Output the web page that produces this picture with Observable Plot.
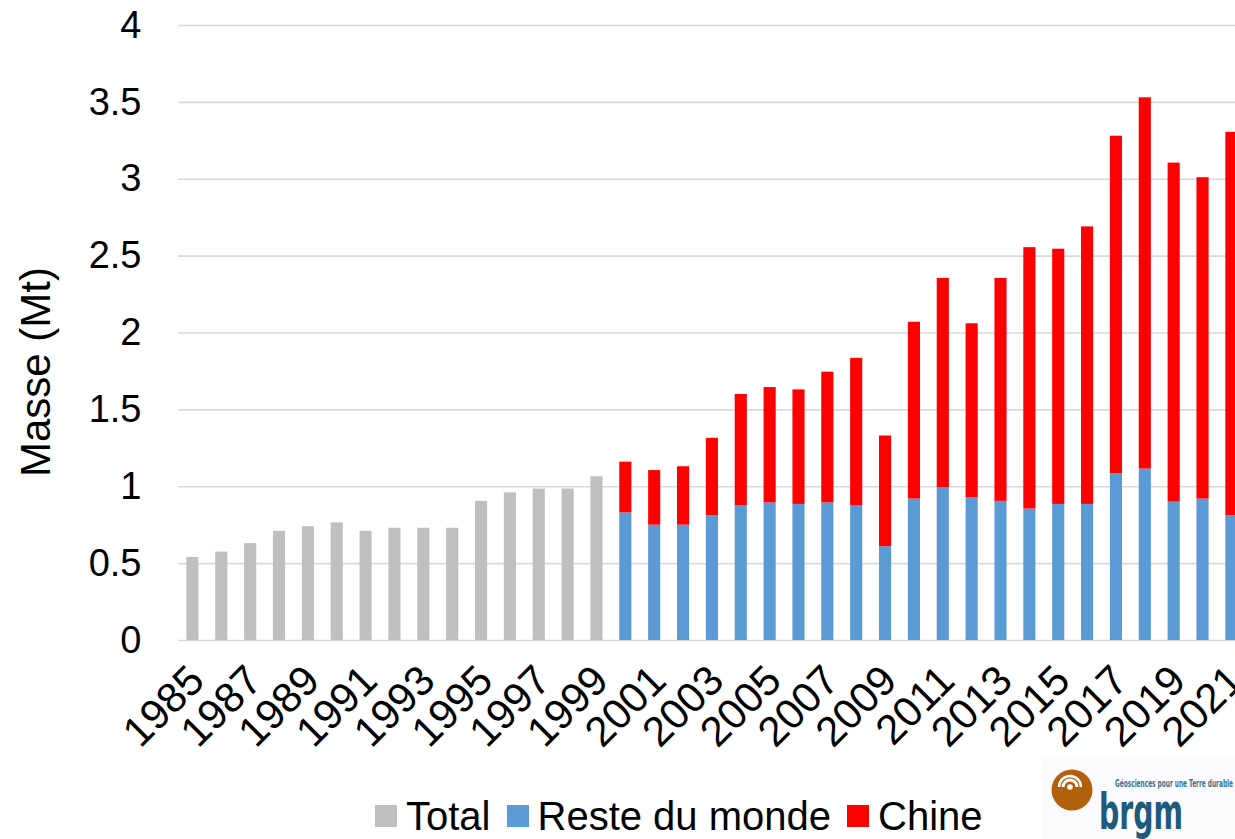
<!DOCTYPE html>
<html>
<head>
<meta charset="utf-8">
<script src="https://cdn.jsdelivr.net/npm/d3@7"></script>
<script src="https://cdn.jsdelivr.net/npm/@observablehq/plot@0.6"></script>
<style>
  html, body { margin: 0; padding: 0; background: #fff; }
  #wrap { position: relative; width: 1235px; height: 839px; overflow: hidden; font-family: "Liberation Sans", Arial, sans-serif; }
  #legend { position: absolute; left: 375px; top: 792px; display: flex; align-items: center; font-size: 40px; color: #000; white-space: nowrap; line-height: 48px; }
  #legend .sw { display: inline-block; width: 22px; height: 22px; margin-right: 9px; }
  #legend .item { display: flex; align-items: center; margin-right: 16px; }
  #logo { position: absolute; left: 0; top: 0; }
</style>
</head>
<body>
<div id="wrap">
  <div id="chart"></div>
  <div id="legend"></div>
  <svg id="logo" width="1235" height="839" style="pointer-events:none">
    <rect x="1042" y="758" width="193" height="81" fill="#fbfbfd"></rect>
    <circle cx="1072" cy="790" r="20.5" fill="#b3600b"></circle>
    <path d="M1063 787 A7 7 0 0 1 1077 787" fill="none" stroke="#fff" stroke-width="3"></path>
    <path d="M1059 787 A11 11 0 0 1 1081 787" fill="none" stroke="#fff" stroke-width="2.5"></path>
    <circle cx="1070" cy="787" r="2.8" fill="#fff"></circle>
    <text x="1115" y="787" font-size="10" font-weight="bold" fill="#3d7394" textLength="118" lengthAdjust="spacingAndGlyphs" font-family="'Liberation Sans Narrow', 'DejaVu Sans Condensed', sans-serif">Géosciences pour une Terre durable</text>
    <text x="1099" y="829" font-size="49" font-weight="bold" fill="#1d5a7e" textLength="84" lengthAdjust="spacingAndGlyphs" font-family="'Liberation Sans Narrow', 'DejaVu Sans Condensed', sans-serif">brgm</text>
  </svg>
</div>
<script>
// Annual mass, in megatonnes
const years = [
  1985, 1986, 1987, 1988, 1989, 1990, 1991, 1992, 1993, 1994, 1995, 1996, 1997,
  1998, 1999, 2000, 2001, 2002, 2003, 2004, 2005, 2006, 2007, 2008, 2009, 2010,
  2011, 2012, 2013, 2014, 2015, 2016, 2017, 2018, 2019, 2020, 2021
];

// World total only, 1985–1999
const totalYears = [1985, 1986, 1987, 1988, 1989, 1990, 1991, 1992, 1993, 1994, 1995, 1996, 1997, 1998, 1999];
const totalValues = [0.54, 0.575, 0.63, 0.71, 0.74, 0.765, 0.71, 0.73, 0.73, 0.73, 0.905, 0.96, 0.985, 0.985, 1.065];

// Split between China and the rest of the world, 2000–2021
const splitYears = [
  2000, 2001, 2002, 2003, 2004, 2005, 2006, 2007, 2008, 2009, 2010,
  2011, 2012, 2013, 2014, 2015, 2016, 2017, 2018, 2019, 2020, 2021
];
const resteValues = [
  0.83, 0.75, 0.75, 0.81, 0.875, 0.895, 0.885, 0.895, 0.875, 0.61, 0.92,
  0.995, 0.93, 0.905, 0.855, 0.885, 0.885, 1.085, 1.115, 0.9, 0.92, 0.81
];
const chineValues = [
  0.33, 0.355, 0.38, 0.505, 0.725, 0.75, 0.745, 0.85, 0.96, 0.72, 1.15,
  1.36, 1.13, 1.45, 1.70, 1.66, 1.805, 2.195, 2.415, 2.205, 2.09, 2.495
];

const series = ["Total", "Reste du monde", "Chine"];
const colors = ["#bfbfbf", "#5b9bd5", "#ff0000"];
const yTicks = [0, 0.5, 1, 1.5, 2, 2.5, 3, 3.5, 4];
const xTickYears = years.filter((d, i) => i % 2 === 0);

const rows = [
  ...totalYears.map((year, i) => ({year, serie: "Total", value: totalValues[i]})),
  ...splitYears.map((year, i) => ({year, serie: "Reste du monde", value: resteValues[i]})),
  ...splitYears.map((year, i) => ({year, serie: "Chine", value: chineValues[i]}))
];

const font = "'Liberation Sans', Arial, sans-serif";
const step = 28.86;

const chart = Plot.plot({
  width: 1235,
  height: 770,
  marginTop: 25,
  marginBottom: 130,
  marginLeft: 178,
  marginRight: 0,
  style: {fontFamily: font, fontSize: "38px", color: "#000", background: "#fff", overflow: "hidden"},
  x: {
    type: "band",
    domain: years,
    range: [178, 178 + years.length * step],
    paddingInner: 0.58,
    paddingOuter: 0.29
  },
  y: {domain: [0, 4], range: [640, 25]},
  color: {domain: series, range: colors},
  marks: [
    Plot.gridY(yTicks, {stroke: "#d9d9d9", strokeOpacity: 1, strokeWidth: 1.6}),
    Plot.barY(rows, Plot.stackY({
      x: "year",
      y: "value",
      fill: "serie",
      order: series
    })),
    Plot.axisY(yTicks, {
      tickSize: 0,
      tickPadding: 37,
      tickFormat: d => String(d),
      fontSize: 38,
      label: null
    }),
    Plot.axisX(xTickYears, {
      tickSize: 0,
      tickPadding: 33,
      dx: 4,
      tickRotate: -45,
      tickFormat: d => String(d),
      fontSize: 42,
      label: null
    }),
    Plot.text(["Masse (Mt)"], {
      frameAnchor: "left",
      textAnchor: "middle",
      dx: -142,
      dy: 39,
      rotate: -90,
      fontSize: 42,
      fill: "#000",
      text: d => d
    })
  ]
});

document.getElementById("chart").appendChild(chart);

// Legend row below the chart
const legend = d3.select("#legend");
series.forEach((s, i) => {
  const item = legend.append("div").attr("class", "item");
  item.append("span").attr("class", "sw").style("background", colors[i]);
  item.append("span").text(s);
});
</script>
</body>
</html>
